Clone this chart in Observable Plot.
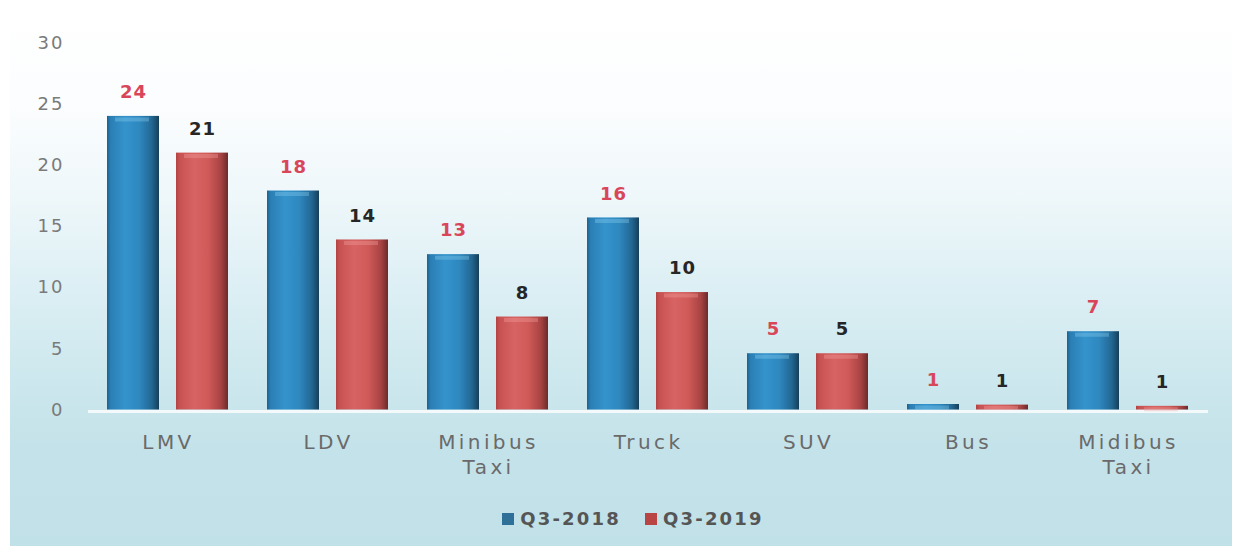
<!DOCTYPE html>
<html>
<head>
<meta charset="utf-8">
<script src="https://cdn.jsdelivr.net/npm/d3@7"></script>
<script src="https://cdn.jsdelivr.net/npm/@observablehq/plot@0.6"></script>
<style>
  html, body { margin: 0; padding: 0; background: #ffffff; }
  #page { position: relative; width: 1242px; height: 548px; overflow: hidden; background: #ffffff; font-family: "DejaVu Sans", Verdana, sans-serif; }
  #box { position: absolute; left: 10px; top: 12px; width: 1222px; height: 534px;
    background: linear-gradient(to bottom, #ffffff 0%, #fbfdfe 18%, #eef7fa 35%, #dceff4 52%, #cde8ee 68%, #c4e2e9 82%, #c1e1e8 100%); }
  #chart { position: absolute; left: 0; top: 0; }
  #legend { position: absolute; left: 12px; top: 508px; width: 1242px; display: flex; justify-content: center; gap: 24px;
    font-family: "DejaVu Sans", sans-serif; font-weight: bold; font-size: 18px; letter-spacing: 2.2px; color: #555; }
  .item { display: flex; align-items: center; }
  .sw { width: 12px; height: 12px; margin-right: 6px; }
  g[aria-label="fx-axis tick label"] { letter-spacing: 3.4px; }
  g[aria-label="y-axis tick label"] { letter-spacing: 2px; }
  g[aria-label="text"] { letter-spacing: 1px; }
</style>
</head>
<body>
<div id="page">
  <div id="box"></div>
  <div id="chart"></div>
  <div id="legend"></div>
</div>
<script>
const categories = ["LMV", "LDV", "Minibus Taxi", "Truck", "SUV", "Bus", "Midibus Taxi"];
const series = ["Q3-2018", "Q3-2019"];
const values2018 = [24, 17.9, 12.7, 15.7, 4.6, 0.45, 6.4];
const values2019 = [21, 13.9, 7.6, 9.6, 4.6, 0.4, 0.3];
const labels2018 = ["24", "18", "13", "16", "5", "1", "7"];
const labels2019 = ["21", "14", "8", "10", "5", "1", "1"];
const yTicks = [0, 5, 10, 15, 20, 25, 30];

const data = categories.flatMap((c, i) => [
  {category: c, series: series[0], value: values2018[i], label: labels2018[i]},
  {category: c, series: series[1], value: values2019[i], label: labels2019[i]}
]);

const is18 = d => d.series === series[0];
const is19 = d => d.series === series[1];

const chart = Plot.plot({
  width: 1242,
  height: 490,
  marginLeft: 86,
  marginRight: 31,
  marginTop: 42.5,
  marginBottom: 80.5,
  style: {background: "transparent", fontFamily: "DejaVu Sans", overflow: "visible"},
  fx: {domain: categories, paddingInner: 0.236, paddingOuter: 0.118, label: null},
  x: {domain: series, paddingInner: 0.24, paddingOuter: 0, axis: null},
  y: {domain: [0, 30], label: null},
  marks: [
    Plot.ruleY([0], {stroke: "#f4f9fb", strokeWidth: 3, dy: 1.5, insetLeft: -19, insetRight: -19}),
    Plot.barY(data, {filter: is18, fx: "category", x: "series", y: "value", fill: "url(#gBlue)"}),
    Plot.barY(data, {filter: is19, fx: "category", x: "series", y: "value", fill: "url(#gRed)"}),
    Plot.tickY(data, {filter: is18, fx: "category", x: "series", y: "value", dy: 3, strokeWidth: 4, stroke: "#8cd0f2", strokeOpacity: 0.35, insetLeft: 8, insetRight: 10}),
    Plot.tickY(data, {filter: is19, fx: "category", x: "series", y: "value", dy: 3, strokeWidth: 4, stroke: "#f4a4a0", strokeOpacity: 0.35, insetLeft: 8, insetRight: 10}),
    Plot.text(data, {filter: is18, fx: "category", x: "series", y: "value", text: "label", dy: -24, fill: "#d9465a", fontWeight: "bold", fontSize: 18}),
    Plot.text(data, {filter: is19, fx: "category", x: "series", y: "value", text: "label", dy: -24, fill: "#262626", fontWeight: "bold", fontSize: 18}),
    Plot.axisY({ticks: yTicks, tickSize: 0, tickPadding: 43, fontSize: 18, fill: "#7a7a7a", label: null}),
    Plot.axisFx({anchor: "bottom", tickSize: 0, tickPadding: 21, fontSize: 20, fill: "#6a6a6a", lineHeight: 1.25, label: null, tickFormat: d => d.replace(" ", "\n")})
  ]
});

// bar gradients (cylinder-like shading)
const ns = "http://www.w3.org/2000/svg";
const defs = document.createElementNS(ns, "defs");
function grad(id, stops) {
  const g = document.createElementNS(ns, "linearGradient");
  g.setAttribute("id", id);
  g.setAttribute("x1", "0"); g.setAttribute("x2", "1"); g.setAttribute("y1", "0"); g.setAttribute("y2", "0");
  for (const [o, c] of stops) {
    const s = document.createElementNS(ns, "stop");
    s.setAttribute("offset", o); s.setAttribute("stop-color", c);
    g.appendChild(s);
  }
  defs.appendChild(g);
}
grad("gBlue", [["0%", "#1d628e"], ["7%", "#2a7fb5"], ["35%", "#3593cc"], ["62%", "#2e88bf"], ["86%", "#226792"], ["100%", "#163e58"]]);
grad("gRed", [["0%", "#b24343"], ["7%", "#c85252"], ["35%", "#d86363"], ["62%", "#cf5a58"], ["86%", "#a84343"], ["100%", "#6c2a2a"]]);
chart.insertBefore(defs, chart.firstChild);

document.getElementById("chart").appendChild(chart);

const legendColors = {"Q3-2018": "#2f7099", "Q3-2019": "#b84444"};
const legend = document.getElementById("legend");
for (const s of series) {
  const item = document.createElement("div");
  item.className = "item";
  const sw = document.createElement("span");
  sw.className = "sw";
  sw.style.background = legendColors[s];
  const t = document.createElement("span");
  t.textContent = s;
  item.appendChild(sw);
  item.appendChild(t);
  legend.appendChild(item);
}
</script>
</body>
</html>
